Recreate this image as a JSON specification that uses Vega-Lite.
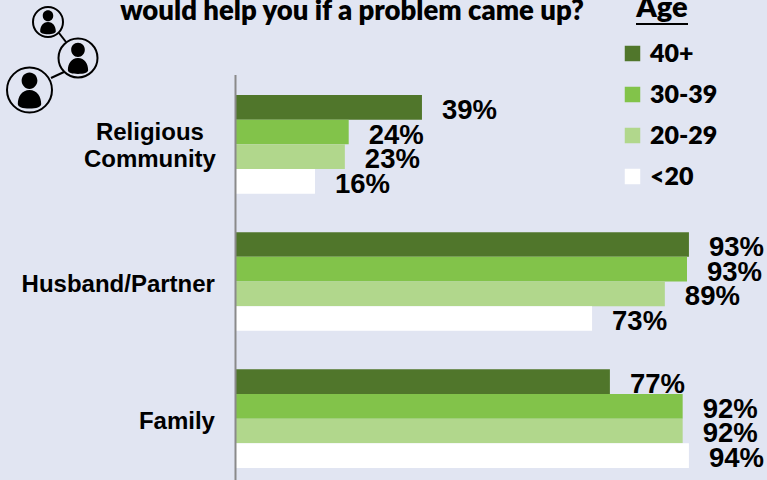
{"$schema":"https://vega.github.io/schema/vega-lite/v6.json","width":767,"height":480,"autosize":"none","padding":0,"background":"#e1e5f2",
"datasets":{"bars":[
{"category":"Religious Community","age":"40+","pct":38.6,"label":"39%"},
{"category":"Religious Community","age":"30-39","pct":23.4,"label":"24%"},
{"category":"Religious Community","age":"20-29","pct":22.6,"label":"23%"},
{"category":"Religious Community","age":"<20","pct":16.4,"label":"16%"},
{"category":"Husband/Partner","age":"40+","pct":94,"label":"93%"},
{"category":"Husband/Partner","age":"30-39","pct":93.6,"label":"93%"},
{"category":"Husband/Partner","age":"20-29","pct":89,"label":"89%"},
{"category":"Husband/Partner","age":"<20","pct":73.9,"label":"73%"},
{"category":"Family","age":"40+","pct":77.6,"label":"77%"},
{"category":"Family","age":"30-39","pct":92.7,"label":"92%"},
{"category":"Family","age":"20-29","pct":92.7,"label":"92%"},
{"category":"Family","age":"<20","pct":94,"label":"94%"}],
"cats":[{"category":"Husband/Partner","name":"Husband/Partner"},{"category":"Family","name":"Family"}],
"cats2":[{"category":"Religious Community","name":"Religious\nCommunity"}],
"rules":[{"x":235.5,"y":75,"y2":480}],
"underline":[{"x":636,"x2":688,"y":24}],
"links":[{"x":59,"x2":66,"y":33,"y2":42},{"x":51,"x2":64,"y":78,"y2":72}],
"icons":[{"x":48,"y":22,"d":900},{"x":78,"y":58,"d":1521},{"x":29.5,"y":90,"d":2025}],
"heading":[{"x":352,"y":12,"t":"would help you if a problem came up?"}],
"agehead":[{"x":662,"y":8,"t":"Age"}]},
"layer":[
{"resolve":{"scale":{"x":"shared","y":"shared"}},"layer":[
{"data":{"name":"bars"},"mark":{"type":"text","font":"Liberation Sans","fontWeight":"bold","fontSize":27.5,"align":"left","baseline":"middle","dx":20,"dy":3.5,"color":"#000000"},
"encoding":{"x":{"field":"pct","type":"quantitative","scale":{"domain":[-48.96,110.2],"nice":false,"zero":false},"axis":null},
"y":{"field":"category","type":"nominal","sort":["Religious Community","Husband/Partner","Family"],"scale":{"range":[95,468],"paddingInner":0.28,"paddingOuter":0},"axis":null},
"yOffset":{"field":"age","type":"nominal","sort":["40+","30-39","20-29","<20"],"scale":{"paddingInner":0,"paddingOuter":0}},
"text":{"field":"label","type":"nominal"}}},
{"data":{"name":"bars"},"mark":{"type":"bar"},
"encoding":{"x":{"field":"pct","type":"quantitative","stack":null,"scale":{"domain":[-48.96,110.2],"nice":false,"zero":false},"axis":null},
"y":{"field":"category","type":"nominal","sort":["Religious Community","Husband/Partner","Family"],"axis":null},
"yOffset":{"field":"age","type":"nominal","sort":["40+","30-39","20-29","<20"]},
"color":{"field":"age","type":"nominal","sort":["40+","30-39","20-29","<20"],"scale":{"domain":["40+","30-39","20-29","<20"],"range":["#50762b","#82c34a","#b1d78c","#ffffff"]},
"legend":{"orient":"none","legendX":620,"legendY":41,"title":null,"labelFont":"Lato","labelFontWeight":800,"labelFontSize":25,"labelColor":"#000000","symbolType":"square","symbolSize":240,"symbolStrokeWidth":0,"rowPadding":15,"labelOffset":5}}}},
{"data":{"name":"cats"},"mark":{"type":"text","font":"Liberation Sans","fontWeight":"bold","fontSize":24,"align":"right","baseline":"middle","dx":-21,"dy":3.5,"color":"#000000"},
"encoding":{"x":{"datum":0,"type":"quantitative"},"y":{"field":"category","type":"nominal","sort":["Religious Community","Husband/Partner","Family"]},"text":{"field":"name","type":"nominal"}}},
{"data":{"name":"cats2"},"mark":{"type":"text","font":"Liberation Sans","fontWeight":"bold","fontSize":24,"align":"center","baseline":"middle","dx":-86,"dy":-11.5,"lineBreak":"\n","lineHeight":27,"color":"#000000"},
"encoding":{"x":{"datum":0,"type":"quantitative"},"y":{"field":"category","type":"nominal","sort":["Religious Community","Husband/Partner","Family"]},"text":{"field":"name","type":"nominal"}}}
]},
{"resolve":{"scale":{"x":"shared","y":"shared"}},"layer":[
{"data":{"name":"rules"},"mark":{"type":"rule","color":"#8a8a8a","strokeWidth":2},
"encoding":{"x":{"field":"x","type":"quantitative","scale":{"domain":[0,767],"nice":false,"zero":false},"axis":null},"y":{"field":"y","type":"quantitative","scale":{"domain":[0,480],"range":[0,480],"nice":false,"zero":false},"axis":null},"y2":{"field":"y2"}}},
{"data":{"name":"underline"},"mark":{"type":"rule","color":"#000000","strokeWidth":2},
"encoding":{"x":{"field":"x","type":"quantitative"},"x2":{"field":"x2"},"y":{"field":"y","type":"quantitative"}}},
{"data":{"name":"heading"},"mark":{"type":"text","font":"Lato","fontWeight":800,"fontSize":27.5,"align":"center","baseline":"middle","color":"#000000"},
"encoding":{"x":{"field":"x","type":"quantitative"},"y":{"field":"y","type":"quantitative"},"text":{"field":"t","type":"nominal"}}},
{"data":{"name":"agehead"},"mark":{"type":"text","font":"Lato","fontWeight":800,"fontSize":29,"align":"center","baseline":"middle","color":"#000000"},
"encoding":{"x":{"field":"x","type":"quantitative"},"y":{"field":"y","type":"quantitative"},"text":{"field":"t","type":"nominal"}}},
{"data":{"name":"links"},"mark":{"type":"rule","color":"#000000","strokeWidth":2},
"encoding":{"x":{"field":"x","type":"quantitative"},"x2":{"field":"x2"},"y":{"field":"y","type":"quantitative"},"y2":{"field":"y2"}}},
{"data":{"name":"icons"},"mark":{"type":"point","shape":"circle","filled":false,"stroke":"#000000","strokeWidth":2,"fill":"#e1e5f2","fillOpacity":1,"opacity":1},
"encoding":{"x":{"field":"x","type":"quantitative"},"y":{"field":"y","type":"quantitative"},"size":{"field":"d","type":"quantitative","scale":null,"legend":null}}},
{"data":{"name":"icons"},"mark":{"type":"point","filled":true,"color":"#000000","opacity":1,"shape":"M0,-0.78C0.2,-0.78 0.35,-0.62 0.35,-0.42C0.35,-0.22 0.2,-0.05 0,-0.05C-0.2,-0.05 -0.35,-0.22 -0.35,-0.42C-0.35,-0.62 -0.2,-0.78 0,-0.78ZM0,0C0.34,0 0.52,0.3 0.52,0.62C0.52,0.76 0.3,0.82 0,0.82C-0.3,0.82 -0.52,0.76 -0.52,0.62C-0.52,0.3 -0.34,0 0,0Z"},
"encoding":{"x":{"field":"x","type":"quantitative"},"y":{"field":"y","type":"quantitative"},"size":{"field":"d","type":"quantitative","scale":null,"legend":null}}}
]}
],
"resolve":{"scale":{"x":"independent","y":"independent"}},
"config":{"view":{"stroke":null}}}
